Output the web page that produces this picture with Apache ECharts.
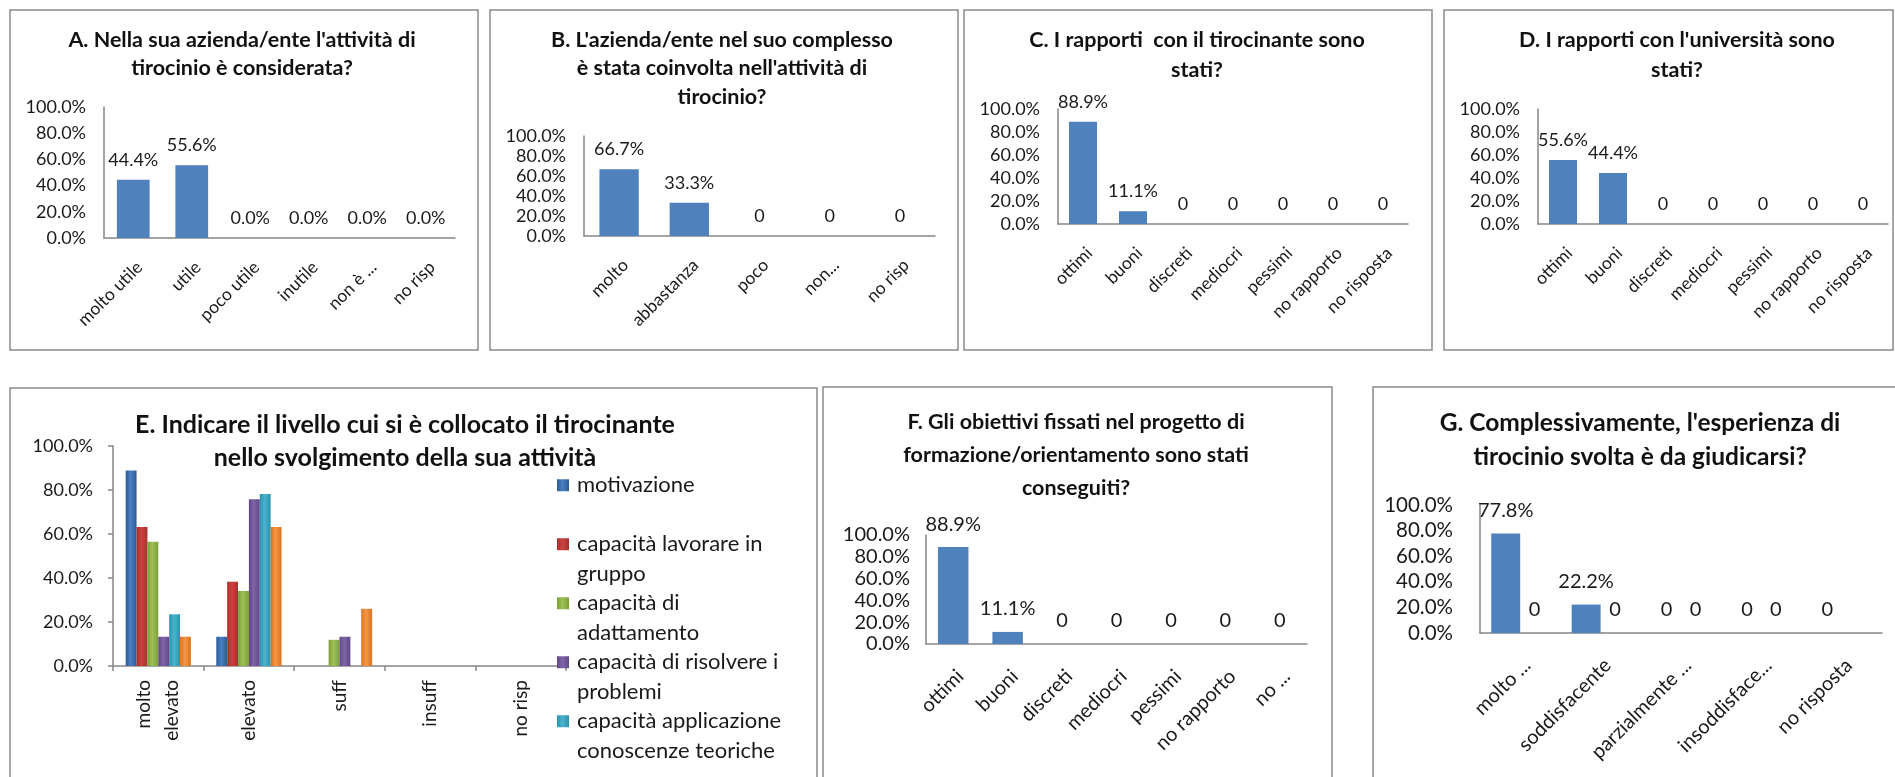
<!DOCTYPE html>
<html>
<head>
<meta charset="utf-8">
<script src="https://cdn.jsdelivr.net/npm/echarts@6/dist/echarts.min.js"></script>
<style>
  html, body { margin: 0; padding: 0; background: #fff; }
  #main { width: 1895px; height: 777px; }
</style>
</head>
<body>
<div id="main"></div>
<script>
// values (percent)
const catsA = ['molto utile', 'utile', 'poco utile', 'inutile', 'non è ...', 'no risp'];
const valsA = [44.4, 55.6, 0, 0, 0, 0];

const catsB = ['molto', 'abbastanza', 'poco', 'non...', 'no risp'];
const valsB = [66.7, 33.3, 0, 0, 0];

const catsC = ['ottimi', 'buoni', 'discreti', 'mediocri', 'pessimi', 'no rapporto', 'no risposta'];
const valsC = [88.9, 11.1, 0, 0, 0, 0, 0];

const catsD = ['ottimi', 'buoni', 'discreti', 'mediocri', 'pessimi', 'no rapporto', 'no risposta'];
const valsD = [55.6, 44.4, 0, 0, 0, 0, 0];

const catsE = ['molto\nelevato', 'elevato', 'suff', 'insuff', 'no risp'];
const namesE = ['motivazione', 'capacità lavorare in gruppo', 'capacità di adattamento',
  'capacità di risolvere i problemi', 'capacità applicazione conoscenze teoriche', 'altro'];
const motivazione = [88.9, 13.3, 0, 0, 0];
const lavoroGruppo = [63.2, 38.3, 0, 0, 0];
const adattamento = [56.5, 34.1, 11.9, 0, 0];
const risolvere = [13.3, 75.8, 13.3, 0, 0];
const applicazione = [23.5, 78.2, 0, 0, 0];
const altro = [13.3, 63.2, 26.0, 0, 0];

const catsF = ['ottimi', 'buoni', 'discreti', 'mediocri', 'pessimi', 'no rapporto', 'no ...'];
const valsF = [88.9, 11.1, 0, 0, 0, 0, 0];

const catsG = ['molto ...', 'soddisfacente', 'parzialmente ...', 'insoddisface...', 'no risposta'];
const valsG1 = [77.8, 22.2, 0, 0, 0];
const valsG2 = [0, 0, 0, 0, null];

const FONT = 'Lato, "Open Sans", sans-serif';
const TXT = '#1a1a1a';
const AXIS = '#868686';
const BLUE = '#4F81BD';

const chart = echarts.init(document.getElementById('main'));

const grids = [
  { left: 104, top: 107, width: 351, height: 131 },   // A
  { left: 584, top: 136, width: 351, height: 100 },   // B
  { left: 1058, top: 109, width: 350, height: 115 },  // C
  { left: 1538, top: 109, width: 350, height: 115 },  // D
  { left: 113, top: 446, width: 453, height: 220 },   // E
  { left: 926, top: 535, width: 381, height: 109 },   // F
  { left: 1480, top: 505, width: 402, height: 128 }   // G
];

function xAx(i, cats, rotate, size, margin, ticks) {
  const lbl = { interval: 0, rotate: rotate, color: TXT, fontSize: size, fontFamily: FONT, margin: margin };
  if (rotate === 90) lbl.lineHeight = 28;
  else lbl.verticalAlign = 'top';
  return {
    type: 'category', gridIndex: i, data: cats,
    axisLine: { lineStyle: { color: AXIS, width: 1.5 } },
    axisTick: { show: ticks, length: 5, lineStyle: { color: AXIS, width: 1.5 } },
    axisLabel: lbl
  };
}
function yAx(i, size, ticks, margin) {
  return {
    type: 'value', gridIndex: i, min: 0, max: 100, interval: 20,
    axisLine: { show: true, lineStyle: { color: AXIS, width: 1.5 } },
    axisTick: { show: ticks, length: 5, lineStyle: { color: AXIS, width: 1.5 } },
    splitLine: { show: false },
    axisLabel: { color: TXT, fontSize: size, fontFamily: FONT, margin: margin,
      formatter: v => v.toFixed(1) + '%' }
  };
}

function pct(zeroText) {
  return p => (p.value === 0 ? zeroText : p.value.toFixed(1) + '%');
}
function bar(i, vals, zeroText, size, dist, extra) {
  return Object.assign({
    type: 'bar', xAxisIndex: i, yAxisIndex: i, data: vals, barWidth: '56%',
    itemStyle: { color: BLUE },
    label: { show: true, position: 'top', distance: dist, color: TXT, fontSize: size, fontFamily: FONT,
      formatter: pct(zeroText) },
    emphasis: { disabled: true }
  }, extra || {});
}

const colE = [
  ['#2c5c99', '#4a7fc1'], ['#a8302c', '#c9433f'], ['#7c9f3a', '#9dc156'],
  ['#61478a', '#8064a8'], ['#2a93ad', '#4bb3cf'], ['#d8731f', '#f79646']
];
const dataE = [motivazione, lavoroGruppo, adattamento, risolvere, applicazione, altro];
const seriesE = dataE.map((d, k) => ({
  type: 'bar', name: namesE[k], xAxisIndex: 4, yAxisIndex: 4, data: d,
  barGap: '0%', barCategoryGap: '28%',
  itemStyle: {
    color: new echarts.graphic.LinearGradient(0, 0, 1, 0, [
      { offset: 0, color: colE[k][0] }, { offset: 0.45, color: colE[k][1] }, { offset: 1, color: colE[k][0] }
    ])
  },
  emphasis: { disabled: true }
}));

const legendText = {
  'motivazione': ' \nmotivazione\n ',
  'capacità lavorare in gruppo': ' \ncapacità lavorare in\ngruppo',
  'capacità di adattamento': ' \ncapacità di\nadattamento',
  'capacità di risolvere i problemi': ' \ncapacità di risolvere i\nproblemi',
  'capacità applicazione conoscenze teoriche': ' \ncapacità applicazione\nconoscenze teoriche'
};

const boxes = [
  [10, 10, 468, 340], [490, 10, 468, 340], [964, 10, 468, 340], [1444, 10, 449, 340],
  [10, 388, 807, 420], [823, 387, 509, 420], [1373, 387, 530, 420]
];
const titles = [
  [242, 40, 28, 21.5, "A. Nella sua azienda/ente l'attività di\ntirocinio è considerata?"],
  [722, 40, 28.5, 21.5, "B. L'azienda/ente nel suo complesso\nè stata coinvolta nell'attività di\ntirocinio?"],
  [1197, 40, 30, 21.5, 'C. I rapporti  con il tirocinante sono\nstati?'],
  [1677, 40, 30, 21.5, "D. I rapporti con l'università sono\nstati?"],
  [405, 425, 33, 25, 'E. Indicare il livello cui si è collocato il tirocinante\nnello svolgimento della sua attività'],
  [1076, 422, 33, 21.5, 'F. Gli obiettivi fissati nel progetto di\nformazione/orientamento sono stati\nconseguiti?'],
  [1640, 423, 34, 24.5, "G. Complessivamente, l'esperienza di\ntirocinio svolta è da giudicarsi?"]
];

const graphics = boxes.map(b => ({
  type: 'rect', shape: { x: b[0], y: b[1], width: b[2], height: b[3] },
  style: { fill: null, stroke: '#8a8a8a', lineWidth: 1.5 }, silent: true
})).concat(titles.map(t => ({
  type: 'text', x: t[0], y: t[1] - t[2] / 2, silent: true,
  style: { text: t[4], fill: '#111', font: 'bold ' + t[3] + 'px ' + FONT,
    align: 'center', verticalAlign: 'top', lineHeight: t[2] }
})));

const option = {
  backgroundColor: '#fff',
  animation: false,
  grid: grids,
  xAxis: [
    xAx(0, catsA, 45, 17.5, 20, false),
    xAx(1, catsB, 45, 17.5, 20, false),
    xAx(2, catsC, 45, 17.5, 20, false),
    xAx(3, catsD, 45, 17.5, 20, false),
    xAx(4, catsE, 90, 19, 14, true),
    xAx(5, catsF, 45, 20, 22, false),
    xAx(6, catsG, 45, 20, 22, false)
  ],
  yAxis: [
    yAx(0, 18, false, 18), yAx(1, 18, false, 18), yAx(2, 18, false, 18), yAx(3, 18, false, 18),
    yAx(4, 18, true, 20), yAx(5, 20, false, 16), yAx(6, 20.5, false, 27)
  ],
  legend: {
    data: namesE.slice(0, 5),
    orient: 'vertical', left: 557, top: 441, height: 600, padding: 0,
    itemGap: -29.5, itemWidth: 12, itemHeight: 12, icon: 'rect',
    selectedMode: false,
    formatter: n => legendText[n],
    textStyle: { fontSize: 22, lineHeight: 29.5, fontFamily: FONT, color: TXT, padding: [0, 0, 0, 3] }
  },
  graphic: graphics,
  series: [
    bar(0, valsA, '0.0%', 18, 11),
    bar(1, valsB, '0', 18, 11),
    bar(2, valsC, '0', 18, 11),
    bar(3, valsD, '0', 18, 11),
    bar(5, valsF, '0', 20, 13),
    bar(6, valsG1, '0', 20, 13, { barWidth: null, barGap: '0%', barCategoryGap: '28%' }),
    bar(6, valsG2, '0', 20, 13, { barWidth: null, barGap: '0%', barCategoryGap: '28%' })
  ].concat(seriesE)
};

chart.setOption(option);
</script>
</body>
</html>
